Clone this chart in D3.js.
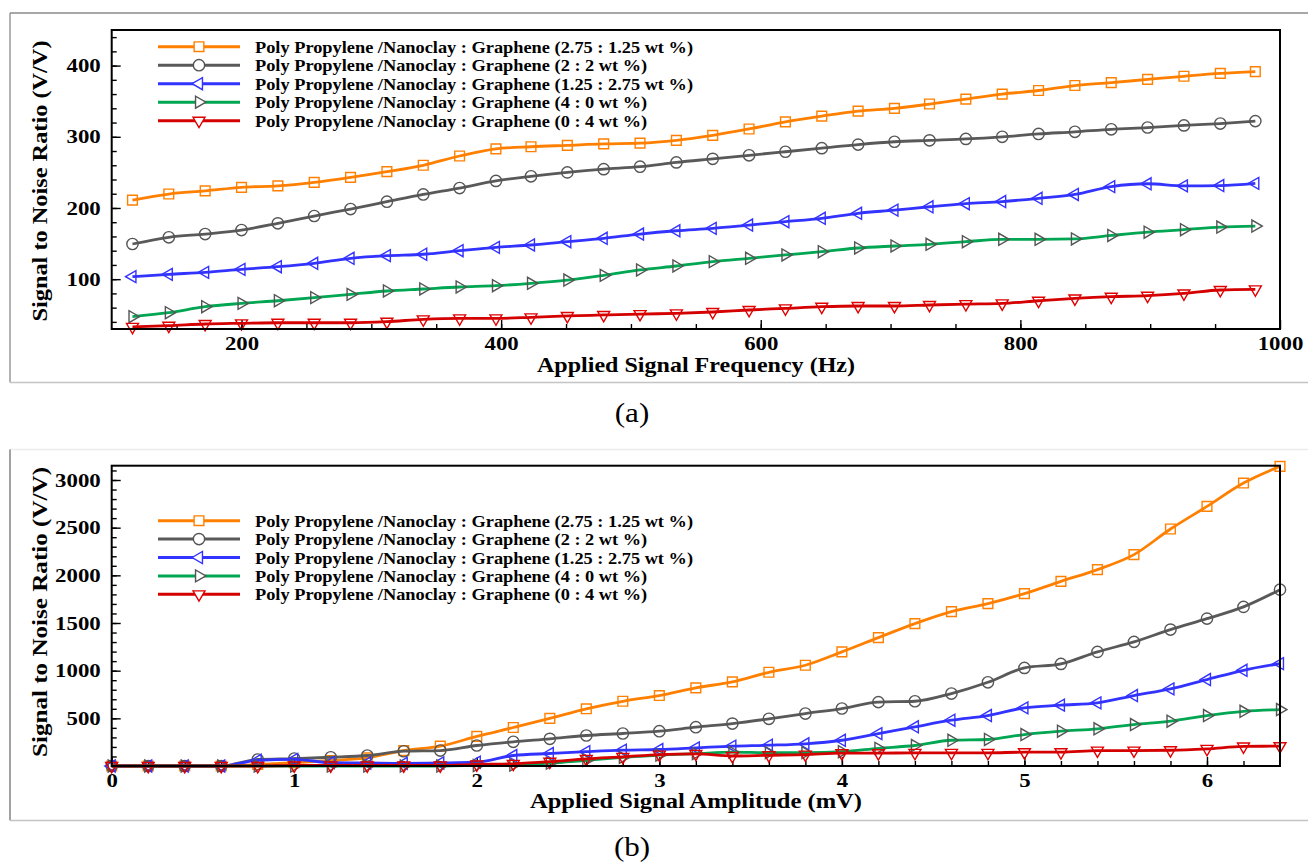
<!DOCTYPE html>
<html><head><meta charset="utf-8">
<script src="https://cdn.jsdelivr.net/npm/d3@7/dist/d3.min.js"></script>
<style>
html,body{margin:0;padding:0;background:#fff;}
svg text{font-family:"Liberation Serif","Times New Roman",serif;}
</style></head>
<body>
<svg id="c" width="1308" height="863"></svg>
<script>
// ---------- DATA ----------
const legendLabels = [
  "Poly Propylene /Nanoclay : Graphene (2.75 : 1.25 wt %)",
  "Poly Propylene /Nanoclay : Graphene (2 : 2 wt %)",
  "Poly Propylene /Nanoclay : Graphene (1.25 : 2.75 wt %)",
  "Poly Propylene /Nanoclay : Graphene (4 : 0 wt %)",
  "Poly Propylene /Nanoclay : Graphene (0 : 4 wt %)"
];
// (a) frequency sweep
const freqHz = [116,144,172,200,228,256,284,312,340,368,396,423,451,479,507,535,563,591,619,647,675,703,730,758,786,814,842,870,898,926,954,981];
const snrA_275 = [211,219.6,224,229,231,236,243,251,260,273,283,286,288,290,291,295,302,311,321,329,336,340,346,353,360,365,372,376,380.6,385,389,391.5];
const snrA_2   = [149.4,158.8,163.4,169,178.4,188.7,198.5,208.8,219,228,238,244.5,250,254.5,258,264,269,274,279,284,289,293,295,297,300,304,307,310.5,313,316,318.6,322];
const snrA_125 = [103.5,106.8,109.6,113.8,117.5,122.3,129.3,133,135,140,144.7,148,152.6,157.4,163.4,168,171.4,176,180.7,185.5,192.5,197,201.7,206,209,213.6,219,230,234,231,231.5,234.6];
const snrA_4   = [47.3,52.9,61.3,66,69.7,74,78.7,83.4,86.2,89,90.8,94.2,98.8,105.4,112.9,118.5,124.6,129.3,134,138.6,143.8,146.6,149,152.6,156,156,156.5,161.4,166,169.5,173.2,174.6];
const snrA_0   = [33,34.6,37,38,38.8,38.8,38.8,40.3,43.6,45,45,46.4,48.3,49.7,51,52,53.9,56.7,59,61.3,62.3,62.3,63.7,65,66,69.7,73,75.4,76.8,80,84.8,85.7];
const xTicksA = [200,400,600,800,1000];
const yTicksA = [100,200,300,400];
// (b) amplitude sweep
const ampMV = [0,0.2,0.4,0.6,0.8,1.0,1.2,1.4,1.6,1.8,2.0,2.2,2.4,2.6,2.8,3.0,3.2,3.4,3.6,3.8,4.0,4.2,4.4,4.6,4.8,5.0,5.2,5.4,5.6,5.8,6.0,6.2,6.4];
const snrB_275 = [0,0,0,0,16,34,58,86,162,208,310,404,500,600,679,739,820,883,983,1057,1197,1347,1494,1620,1703,1808,1937,2060,2217,2486,2723,2968,3143];
const snrB_2   = [0,0,0,0,68,78,92,110,155,162,215,254,285,320,341,365,407,445,495,550,603,670,679,760,878,1029,1071,1197,1302,1431,1546,1669,1850];
const snrB_125 = [0,0,0,0,60,70,35,32,28,32,40,110,131,150,166,173,190,208,218,233,270,340,411,480,529,610,638,662,739,809,907,1004,1074];
const snrB_4   = [0,0,0,0,0,0,0,0,0,0,5,10,30,60,90,115,130,145,140,140,150,185,215,270,278,330,365,390,435,470,529,574,592];
const snrB_0   = [0,0,0,0,0,5,5,5,5,5,16,23,45,75,96,120,128,105,113,120,135,135,138,138,138,145,145,162,162,165,180,205,208];
const xTicksB = [0,1,2,3,4,5,6];
const yTicksB = [500,1000,1500,2000,2500,3000];

// ---------- STYLE ----------
const lineColors = ["#ff8000","#595959","#3333ff","#00a651","#d40000"];
const markColors = ["#ff8000","#555555","#3333ff","#555555","#e00000"];
const symTypes = [d3.symbolSquare,d3.symbolCircle,d3.symbolTriangle,d3.symbolTriangle,d3.symbolTriangle];
const symRot = [0,0,-90,90,180];
const symSize = [95,100,62,62,62];

const svg = d3.select("#c");

function stretch(sel, factor){
  sel.each(function(){
    const len = this.getComputedTextLength();
    d3.select(this).attr("textLength", len*factor).attr("lengthAdjust","spacingAndGlyphs");
  });
}
function stretchTo(sel, target){
  sel.each(function(){
    d3.select(this).attr("textLength", target).attr("lengthAdjust","spacingAndGlyphs");
  });
}

function panel(cfg){
  const g = svg.append("g");
  const x = d3.scaleLinear().domain(cfg.xDomain).range([cfg.left, cfg.right]);
  const y = d3.scaleLinear().domain(cfg.yDomain).range([cfg.bottom, cfg.top]);

  // frame around panel
  g.append("line").attr("x1",cfg.fx).attr("x2",1308).attr("y1",cfg.fy1).attr("y2",cfg.fy1).attr("stroke",cfg.topCol).attr("stroke-width",1.3);
  g.append("line").attr("x1",cfg.fx).attr("x2",cfg.fx).attr("y1",cfg.fy1).attr("y2",cfg.fy2).attr("stroke",cfg.leftCol).attr("stroke-width",1.3);
  g.append("line").attr("x1",cfg.fx).attr("x2",1308).attr("y1",cfg.fy2).attr("y2",cfg.fy2).attr("stroke","#c4c4c4").attr("stroke-width",1.3);

  // minor ticks
  const minorX = g.append("g").attr("transform",`translate(0,${cfg.bottom})`)
    .call(d3.axisBottom(x).tickValues(cfg.xMinor).tickSize(-5).tickFormat(""));
  const minorY = g.append("g").attr("transform",`translate(${cfg.left},0)`)
    .call(d3.axisLeft(y).tickValues(cfg.yMinor).tickSize(-5).tickFormat(""));
  // major ticks
  const ax = g.append("g").attr("transform",`translate(0,${cfg.bottom})`)
    .call(d3.axisBottom(x).tickValues(cfg.xTicks).tickSizeInner(-9).tickSizeOuter(0).tickPadding(8).tickFormat(d3.format("d")));
  const ay = g.append("g").attr("transform",`translate(${cfg.left},0)`)
    .call(d3.axisLeft(y).tickValues(cfg.yTicks).tickSizeInner(-9).tickSizeOuter(0).tickPadding(11).tickFormat(d3.format("d")));
  [minorX,minorY,ax,ay].forEach(a=>{
    a.select(".domain").remove();
    a.selectAll("line").attr("stroke","#000").attr("stroke-width",1.4);
  });
  [ax,ay].forEach(a=>{
    a.selectAll("text").attr("font-size",19).attr("font-weight","bold").attr("fill","#000")
      .attr("font-family","'Liberation Serif','Times New Roman',serif");
    stretch(a.selectAll("text"),1.2);
  });

  // clip
  const cid = "clip"+cfg.id;
  svg.append("clipPath").attr("id",cid).append("rect")
    .attr("x",cfg.left-8).attr("y",cfg.top-8).attr("width",cfg.right-cfg.left+16).attr("height",cfg.bottom-cfg.top+16);

  const plot = g.append("g");
  const line = d3.line().x((d,i)=>x(cfg.xs[i])).y(d=>y(d)).curve(d3.curveMonotoneX);
  cfg.series.forEach((s,k)=>{
    plot.append("path").datum(s).attr("d",line).attr("fill","none")
      .attr("stroke",lineColors[k]).attr("stroke-width",2.8).attr("stroke-linejoin","round");
    const sym = d3.symbol().type(symTypes[k]).size(symSize[k]);
    plot.selectAll(null).data(s).join("path")
      .attr("d",sym)
      .attr("transform",(d,i)=>`translate(${x(cfg.xs[i])},${y(d)}) rotate(${symRot[k]})`)
      .attr("fill","none").attr("stroke",markColors[k]).attr("stroke-width",1.4);
  });

  // plot border
  g.append("rect").attr("x",cfg.left).attr("y",cfg.top).attr("width",cfg.right-cfg.left).attr("height",cfg.bottom-cfg.top)
    .attr("fill","none").attr("stroke","#000").attr("stroke-width",2);

  // legend
  const lg = g.append("g");
  legendLabels.forEach((lab,k)=>{
    const ly = cfg.legY + k*cfg.legStep;
    lg.append("line").attr("x1",158).attr("x2",240).attr("y1",ly).attr("y2",ly)
      .attr("stroke",lineColors[k]).attr("stroke-width",3);
    lg.append("path").attr("d",d3.symbol().type(symTypes[k]).size(symSize[k]))
      .attr("transform",`translate(199,${ly}) rotate(${symRot[k]})`)
      .attr("fill","#fff").attr("stroke",markColors[k]).attr("stroke-width",1.4);
    const t = lg.append("text").attr("x",255).attr("y",ly+6).attr("font-size",17.5).attr("font-weight","bold").text(lab);
  });
  const texts = lg.selectAll("text");
  // stretch based on longest label target width
  let maxLen = 0; texts.each(function(){ maxLen = Math.max(maxLen,this.getComputedTextLength()); });
  stretch(texts, 438/maxLen);

  // axis titles
  const xt = g.append("text").attr("x",cfg.xTitleX).attr("y",cfg.xTitleY).attr("text-anchor","middle")
    .attr("font-size",21).attr("font-weight","bold").text(cfg.xTitle);
  stretchTo(xt, cfg.xTitleW);
  const yt = g.append("text").attr("transform",`translate(47,${cfg.yTitleC}) rotate(-90)`).attr("text-anchor","middle")
    .attr("font-size",21).attr("font-weight","bold").text("Signal to Noise Ratio (V/V)");
  stretchTo(yt, cfg.yTitleW);

  // caption
  const cap = g.append("text").attr("x",632).attr("y",cfg.capY).attr("text-anchor","middle")
    .attr("font-size",27).text(cfg.caption);
  stretch(cap,1.15);
}

function range(a,b,s){ const r=[]; for(let v=a; v<=b+1e-9; v+=s) r.push(+v.toFixed(4)); return r; }

panel({
  id:"a", left:111.7, right:1280, top:30, bottom:329,
  xDomain:[100,1000], yDomain:[30,450],
  xs:freqHz, series:[snrA_275,snrA_2,snrA_125,snrA_4,snrA_0],
  xTicks:xTicksA, yTicks:yTicksA,
  xMinor:range(150,950,50), yMinor:range(40,440,20),
  legY:46.7, legStep:18.5,
  xTitle:"Applied Signal Frequency (Hz)", xTitleX:696, xTitleY:372, xTitleW:318,
  yTitleC:181, yTitleW:281,
  fx:10, fy1:13, fy2:382.5, topCol:"#8a8a8a", leftCol:"#8a8a8a",
  caption:"(a)", capY:422
});
panel({
  id:"b", left:111.7, right:1280, top:465.7, bottom:766,
  xDomain:[0,6.4], yDomain:[0,3150],
  xs:ampMV, series:[snrB_275,snrB_2,snrB_125,snrB_4,snrB_0],
  xTicks:xTicksB, yTicks:yTicksB,
  xMinor:range(0.2,6.2,0.2), yMinor:range(100,3100,100),
  legY:520.7, legStep:18.4,
  xTitle:"Applied Signal Amplitude (mV)", xTitleX:696, xTitleY:808, xTitleW:332,
  yTitleC:612, yTitleW:290,
  fx:10, fy1:449.5, fy2:820.5, topCol:"#ececec", leftCol:"#707070",
  caption:"(b)", capY:856
});
</script>
</body></html>
